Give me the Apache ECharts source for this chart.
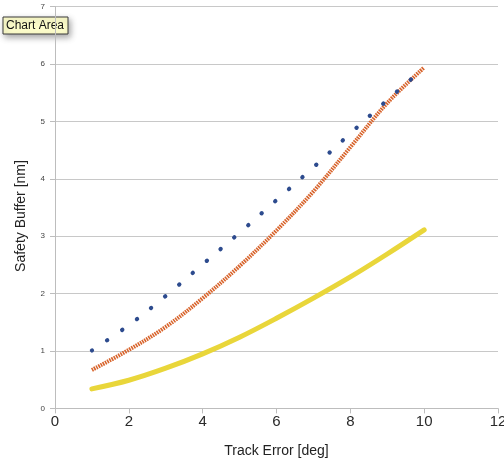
<!DOCTYPE html>
<html>
<head>
<meta charset="utf-8">
<script src="https://cdn.jsdelivr.net/npm/echarts@6/dist/echarts.min.js"></script>
<style>html,body{margin:0;padding:0;background:#fff}#c{width:504px;height:466px}</style>
</head>
<body>
<div id="c"></div>
<script>
var trackError = [1, 2, 3, 4, 5, 6, 7, 8, 9, 10];
var seriesBlue = [1.01, 1.45, 1.96, 2.51, 3.06, 3.63, 4.20, 4.79, 5.37, 5.93];
var seriesOrange = [0.67, 1.02, 1.42, 1.92, 2.48, 3.10, 3.78, 4.55, 5.32, 5.94];
var seriesYellow = [0.34, 0.49, 0.70, 0.95, 1.24, 1.57, 1.92, 2.29, 2.69, 3.11];
var xTicks = [0, 2, 4, 6, 8, 10, 12];
var yTicks = [0, 1, 2, 3, 4, 5, 6, 7];

function pairs(ys) { return trackError.map(function (x, i) { return [x, ys[i]]; }); }

var chart = echarts.init(document.getElementById('c'), null, {renderer: 'canvas'});
chart.setOption({
  animation: false,
  backgroundColor: '#ffffff',
  grid: {left: 55, right: 6, top: 6.6, bottom: 57.6, containLabel: false, outerBoundsMode: 'none'},
  xAxis: {
    type: 'value', min: xTicks[0], max: xTicks[xTicks.length - 1], interval: 2,
    name: 'Track Error [deg]', nameLocation: 'middle', nameGap: 36,
    nameTextStyle: {fontFamily: 'Liberation Sans', fontSize: 14, color: '#222'},
    axisLine: {show: true, lineStyle: {color: '#bdbdbd', width: 1}},
    axisTick: {show: true, length: 5, lineStyle: {color: '#bdbdbd'}},
    axisLabel: {fontFamily: 'Liberation Sans', fontSize: 15, color: '#2a2a2a', margin: 6, showMaxLabel: true},
    splitLine: {show: false}
  },
  yAxis: {
    type: 'value', min: yTicks[0], max: yTicks[yTicks.length - 1], interval: 1,
    axisLine: {show: true, lineStyle: {color: '#bdbdbd', width: 1}},
    axisTick: {show: true, length: 5, lineStyle: {color: '#bdbdbd'}},
    axisLabel: {fontFamily: 'Liberation Sans', fontSize: 8, color: '#444', margin: 10},
    splitLine: {show: true, lineStyle: {color: '#c8c8c8', width: 1}}
  },
  graphic: [
    {type: 'text', rotation: Math.PI / 2,
      style: {text: 'Safety Buffer [nm]', font: '14px "Liberation Sans"', fill: '#222', x: 0, y: 0, textAlign: 'center', textVerticalAlign: 'middle'},
      position: [21, 216], silent: true},
    {type: 'group', position: [0, 0], children: [
      {type: 'rect', shape: {x: 3, y: 17, width: 65, height: 17},
        style: {fill: '#fdfdcb', stroke: '#3a3a3a', lineWidth: 1, shadowBlur: 6, shadowOffsetX: 2, shadowOffsetY: 3, shadowColor: 'rgba(0,0,0,0.35)'}},
      {type: 'text', style: {text: 'Chart Area', x: 6, y: 25.5, font: '12px "Liberation Sans"', fill: '#111', textVerticalAlign: 'middle'}}
    ]}
  ],
  series: [
    {type: 'line', data: pairs(seriesYellow), smooth: 0.35, showSymbol: false, z: 2,
      lineStyle: {color: '#e9d63a', width: 5, cap: 'round'}},
    {type: 'line', data: pairs(seriesOrange), smooth: 0.35, showSymbol: false, z: 3,
      lineStyle: {color: '#d8642c', width: 4, type: [1.6, 0.9]}},
    {type: 'line', data: pairs(seriesBlue), smooth: 0.35, showSymbol: false, z: 4,
      lineStyle: {color: '#2d4b8e', width: 4.2, type: [0.3, 17.9], cap: 'round'}}
  ]
});
</script>
</body>
</html>
